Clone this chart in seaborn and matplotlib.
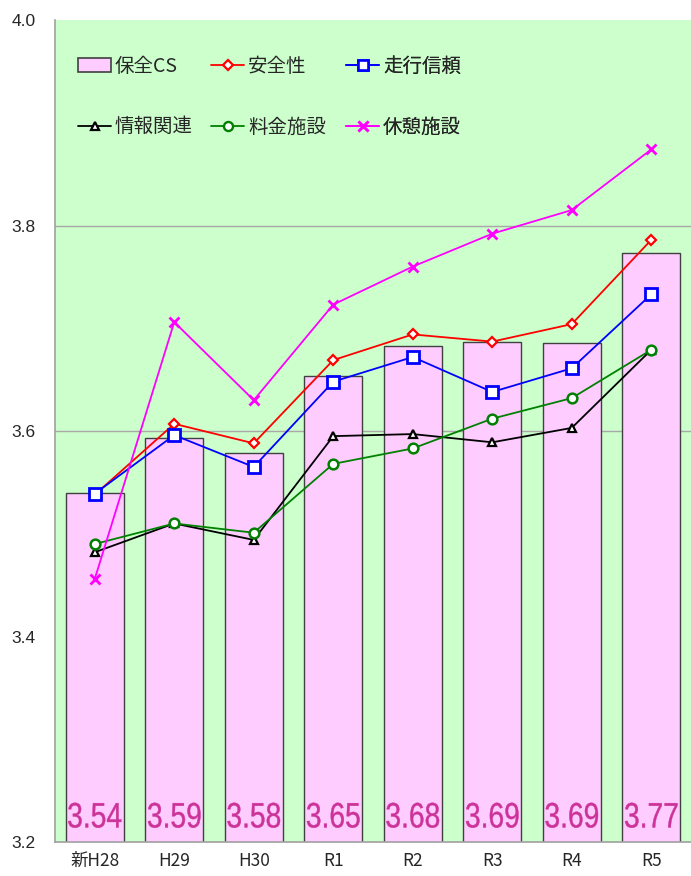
import numpy as np
import pandas as pd
import matplotlib
matplotlib.use("Agg")
import matplotlib.pyplot as plt
import matplotlib.transforms as mtransforms
import seaborn as sns
from matplotlib.patches import Patch, PathPatch
from matplotlib.lines import Line2D
from matplotlib.textpath import TextPath
from matplotlib.font_manager import FontProperties

categories = ["新H28", "H29", "H30", "R1", "R2", "R3", "R4", "R5"]
hozen_cs = [3.540, 3.593, 3.579, 3.654, 3.683, 3.687, 3.686, 3.773]
bar_labels = ["3.54", "3.59", "3.58", "3.65", "3.68", "3.69", "3.69", "3.77"]
anzensei = [3.538, 3.607, 3.588, 3.669, 3.694, 3.687, 3.704, 3.786]
soko_shinrai = [3.539, 3.596, 3.565, 3.648, 3.672, 3.638, 3.661, 3.733]
joho_kanren = [3.482, 3.510, 3.494, 3.595, 3.597, 3.589, 3.603, 3.679]
ryokin_shisetsu = [3.490, 3.510, 3.501, 3.568, 3.583, 3.612, 3.632, 3.679]
kyukei_shisetsu = [3.456, 3.706, 3.630, 3.723, 3.760, 3.792, 3.815, 3.874]
y_ticks = [3.2, 3.4, 3.6, 3.8, 4.0]

sns.set_style("white")
plt.rcParams["font.family"] = ["Noto Sans CJK JP", "DejaVu Sans"]

fig = plt.figure(figsize=(6.91, 8.76), dpi=100)
ax = fig.add_axes([55 / 691, 1 - 842 / 876, 1 - 55 / 691, (842 - 20) / 876])
ax.set_facecolor("#CCFFCC")

pos = np.arange(len(categories))
df_bar = pd.DataFrame({"x": pos, "v": hozen_cs})
sns.barplot(data=df_bar, x="x", y="v", ax=ax, color="#FFCCFF", saturation=1,
            width=0.73, edgecolor="#404040", linewidth=1.0, zorder=2, native_scale=True)

series = [
    ("安全性", anzensei, "#FF0000", "D", 5.5, 1.6),
    ("走行信頼", soko_shinrai, "#0000FF", "s", 8, 2.0),
    ("情報関連", joho_kanren, "#000000", "^", 6, 1.6),
    ("料金施設", ryokin_shisetsu, "#008000", "o", 7, 1.8),
    ("休憩施設", kyukei_shisetsu, "#FF00FF", "x", 7, 2.0),
]
for idx in [4, 3, 2, 1, 0]:
    name, vals, col, mk, ms, mew = series[idx]
    d = pd.DataFrame({"x": pos, "v": vals})
    fc = col if mk == "x" else "white"
    sns.lineplot(data=d, x="x", y="v", ax=ax, color=col, linewidth=1.3,
                 marker=mk, markersize=ms, markerfacecolor=fc,
                 markeredgecolor=col, markeredgewidth=mew, zorder=4 + idx)

# condensed bar value labels (drawn as text paths, horizontally compressed)
fp = FontProperties(family="Liberation Sans")
ref_bb = TextPath((0, 0), bar_labels[0], size=1, prop=fp).get_extents()
sx = 53.0 / ref_bb.width
sy = 25.0 / ref_bb.height
for i, lab in enumerate(bar_labels):
    tp = TextPath((0, 0), lab, size=1, prop=fp)
    bb = tp.get_extents()
    tr = (mtransforms.Affine2D()
          .translate(-(bb.x0 + bb.x1) / 2, -(bb.y0 + bb.y1) / 2)
          .scale(sx, sy)
          + mtransforms.ScaledTranslation(pos[i], 3.226, ax.transData))
    ax.add_patch(PathPatch(tp, transform=tr, facecolor="#CC3399",
                           edgecolor="#CC3399", linewidth=0.3, zorder=10))

ax.set_xlim(-0.5, len(categories) - 0.5)
ax.set_ylim(3.2, 4.0)
ax.set_yticks(y_ticks)
ax.set_yticklabels([f"{t:.1f}" for t in y_ticks], fontsize=12.5,
                   family=["Liberation Sans", "DejaVu Sans"])
ax.set_xticks(np.arange(len(categories) + 1) - 0.5)
ax.set_xticklabels([])
ax.set_xticks(pos, minor=True)
ax.set_xticklabels(categories, minor=True, fontsize=12.5)
ax.tick_params(axis="x", which="major", length=5, color="#999999", direction="out")
ax.tick_params(axis="x", which="minor", length=0, pad=7)
ax.tick_params(axis="y", length=5, color="#999999", direction="out", pad=9)
ax.set_xlabel("")
ax.set_ylabel("")

for g in [3.6, 3.8]:
    ax.axhline(g, color="#A8A8A8", linewidth=1.0, zorder=1)

for s in ["top", "right"]:
    ax.spines[s].set_visible(False)
for s in ["left", "bottom"]:
    ax.spines[s].set_color("#A0A0A0")
    ax.spines[s].set_linewidth(1.2)

h_cs = Patch(facecolor="#FFCCFF", edgecolor="#404040", linewidth=1.2, label="保全CS")
h_joho = Line2D([], [], color="#000000", marker="^", markersize=5.5, markerfacecolor="white",
                markeredgewidth=1.6, linewidth=1.3, label="情報関連")
h_anzen = Line2D([], [], color="#FF0000", marker="D", markersize=5, markerfacecolor="white",
                 markeredgewidth=1.6, linewidth=1.3, label="安全性")
h_ryokin = Line2D([], [], color="#008000", marker="o", markersize=6.5, markerfacecolor="white",
                  markeredgewidth=1.7, linewidth=1.3, label="料金施設")
h_soko = Line2D([], [], color="#0000FF", marker="s", markersize=6.5, markerfacecolor="white",
                markeredgewidth=1.9, linewidth=1.3, label="走行信頼")
h_kyukei = Line2D([], [], color="#FF00FF", marker="x", markersize=6.5, markeredgewidth=1.9,
                  linewidth=1.3, label="休憩施設")

col_x = [(78 - 55) / 636, (211 - 55) / 636, (346 - 55) / 636]
col_handles = [[h_cs, h_joho], [h_anzen, h_ryokin], [h_soko, h_kyukei]]
y_mid = (842 - 96.5) / 822
for cx, hs in zip(col_x, col_handles):
    leg = ax.legend(handles=hs, loc="center left", bbox_to_anchor=(cx, y_mid),
                    frameon=False, fontsize=14, handlelength=1.7, handletextpad=0.2,
                    labelspacing=2.05, borderpad=0, borderaxespad=0)
    leg.set_zorder(20)
    ax.add_artist(leg)

fig.savefig("out.png", dpi=100)
